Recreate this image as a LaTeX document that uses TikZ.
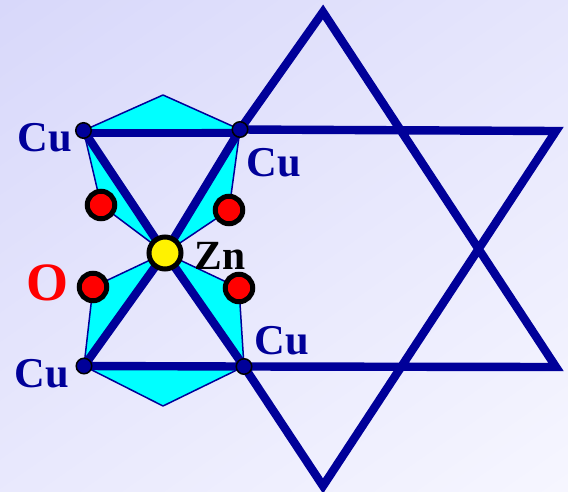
\documentclass[tikz,border=0pt]{standalone}
\usepackage{fontspec}
\setmainfont{Liberation Serif}
\definecolor{navy}{HTML}{000099}
\definecolor{aqua}{HTML}{00FFFF}
\definecolor{bgA}{HTML}{D8D8FA}
\definecolor{bgB}{HTML}{F6F6FF}
\tikzset{
  bond/.style={draw=navy,line width=8.4pt,line join=miter,line cap=butt},
  cell/.style={fill=aqua,draw=navy,line width=1.5pt,line join=round},
  cu/.style={circle,fill=navy,draw=black,line width=1.5pt,inner sep=0pt,minimum size=15.5pt},
  oxy/.style={circle,fill=red,draw=black,line width=5pt,inner sep=0pt,minimum size=27.5pt},
  zn/.style={circle,fill=yellow,draw=black,line width=5pt,inner sep=0pt,minimum size=32pt},
  culab/.style={text=navy,font=\fontsize{42.5}{42.5}\selectfont\bfseries,inner sep=0pt},
}
\begin{document}
\begin{tikzpicture}[x=1pt,y=-1pt]
\useasboundingbox (0,0) rectangle (568,491);
\begin{scope}
\clip (0,0) rectangle (568,491);
\shade[top color=bgA,bottom color=bgB,shading angle=35] (-100,-100) rectangle (668,591);
\end{scope}
\coordinate (TL) at (83.5,130.5);
\coordinate (TR) at (240,129.5);
\coordinate (BarL) at (84,133);
\coordinate (BarR) at (240,133);
\coordinate (BL) at (84,366);
\coordinate (BR) at (244,366.5);
\coordinate (Z) at (165,253);
\coordinate (OTL) at (101,205);
\coordinate (OTR) at (229,210);
\coordinate (OBL) at (93,287);
\coordinate (OBR) at (239,288);
\coordinate (HT) at (163,95);
\coordinate (HB) at (163,406);
\coordinate (ST) at (323,12);
\coordinate (SR1) at (556,131);
\coordinate (SR2) at (556,367);
\coordinate (SB) at (323,486);
\path[cell] (TL) -- (HT) -- (TR) -- cycle;
\path[cell] (BL) -- (HB) -- (BR) -- cycle;
\path[cell] (TL) -- (OTL) -- (Z) -- cycle;
\path[cell] (TR) -- (OTR) -- (Z) -- cycle;
\path[cell] (BL) -- (OBL) -- (Z) -- cycle;
\path[cell] (BR) -- (OBR) -- (Z) -- cycle;
\draw[bond] (TR) -- (SR1) -- (SB) -- (BR) -- (SR2) -- (ST) -- cycle;
\draw[bond] (BarL) -- (BarR);
\draw[bond] (TR) -- (Z) -- (BL) -- (BR) -- (Z) -- (TL);
\node[cu] (nTL) at (TL) {};
\node[cu] (nTR) at (TR) {};
\node[cu] (nBL) at (BL) {};
\node[cu] (nBR) at (BR) {};
\node[oxy] (nOTL) at (OTL) {};
\node[oxy] (nOTR) at (OTR) {};
\node[oxy] (nOBL) at (OBL) {};
\node[oxy] (nOBR) at (OBR) {};
\node[zn] (nZ) at (Z) {};
\node[culab] (l1) at (45,138) {Cu};
\node[culab] (l2) at (274,163) {Cu};
\node[culab] (l3) at (42,374) {Cu};
\node[culab] (l4) at (282,341) {Cu};
\node[inner sep=0pt,font=\fontsize{41.5}{41.5}\selectfont\bfseries] (l5) at (220,256) {Zn};
\node[inner sep=0pt,text=red,font=\fontsize{54}{54}\selectfont\bfseries] (l6) at (48,283) {O};
\end{tikzpicture}
\end{document}
